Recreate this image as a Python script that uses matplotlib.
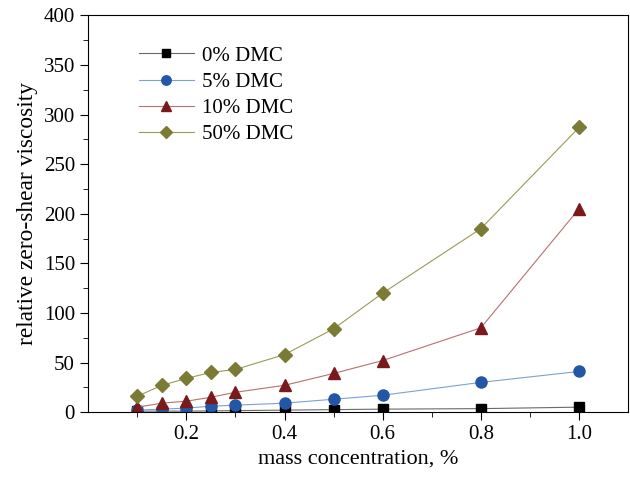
import matplotlib
matplotlib.use("Agg")
import matplotlib.pyplot as plt
from matplotlib.ticker import MultipleLocator, FixedLocator

plt.rcParams['font.family'] = ['Liberation Serif', 'DejaVu Serif']

conc = [0.1, 0.15, 0.2, 0.25, 0.3, 0.4, 0.5, 0.6, 0.8, 1.0]
dmc0 = [1, 1, 1, 1.2, 1.5, 2, 2.5, 3, 3.5, 5]
dmc5 = [2, 3, 4, 6, 7, 9, 13, 17, 30, 41]
dmc10 = [5, 9, 11, 15, 20, 27, 39, 52, 85, 205]
dmc50 = [16, 27, 34, 40, 43, 58, 84, 120, 185, 287]

labels = ['0% DMC', '5% DMC', '10% DMC', '50% DMC']
series = [dmc0, dmc5, dmc10, dmc50]
markers = ['s', 'o', '^', 'D']
mcolors = ['#000000', '#2257a8', '#7a1a1a', '#7b7b35']
lcolors = ['#6a6a6a', '#7f9fd6', '#b87070', '#9a9a55']
msizes = [7, 8, 9, 7.5]

fig, ax = plt.subplots(figsize=(6.3, 4.82), dpi=100)
fig.subplots_adjust(left=0.14, right=0.997, top=0.968, bottom=0.145)

for y, lab, m, mc, lc, ms in zip(series, labels, markers, mcolors, lcolors, msizes):
    ax.plot(conc, y, color=lc, lw=0.8, marker=m, markersize=ms,
            markerfacecolor=mc, markeredgecolor=mc, label=lab)

ax.set_xlim(0, 1.1)
ax.set_ylim(0, 400)
ax.xaxis.set_major_locator(FixedLocator([0.2, 0.4, 0.6, 0.8, 1.0]))
ax.xaxis.set_minor_locator(FixedLocator([0.1, 0.3, 0.5, 0.7, 0.9]))
ax.yaxis.set_major_locator(MultipleLocator(50))
ax.yaxis.set_minor_locator(MultipleLocator(25))
ax.tick_params(which='both', direction='out', labelsize=15)
ax.tick_params(which='major', length=6)
ax.tick_params(which='minor', length=3.5)
ax.set_xlabel('mass concentration, %', fontsize=16)
ax.set_ylabel('relative zero-shear viscosity', fontsize=16.8)

ax.legend(loc='upper left', bbox_to_anchor=(0.06, 0.97), frameon=False,
          fontsize=15, handlelength=2.6, labelspacing=0.32, handletextpad=0.4,
          markerscale=0.85)

fig.savefig('out.png')
